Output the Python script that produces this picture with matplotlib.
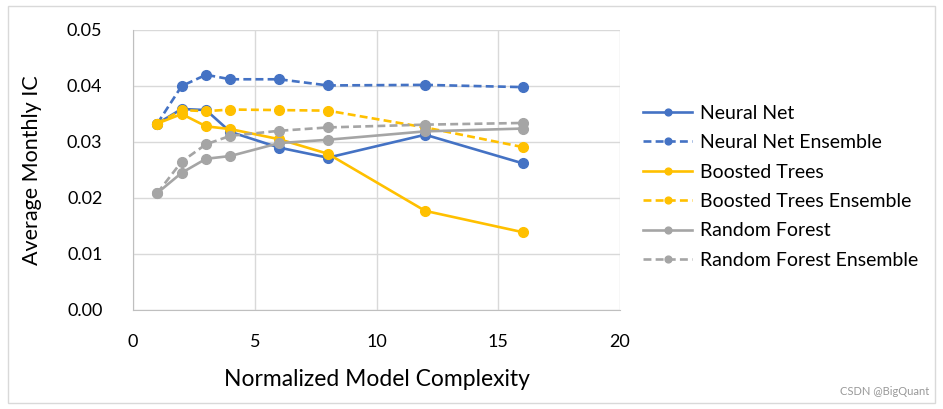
import matplotlib
matplotlib.use("Agg")
import matplotlib.pyplot as plt

plt.rcParams["font.family"] = ["Lato", "DejaVu Sans"]

complexity = [1, 2, 3, 4, 6, 8, 12, 16]
neural_net = [0.0333, 0.0359, 0.0357, 0.0318, 0.0290, 0.0272, 0.0313, 0.0262]
neural_net_ens = [0.0333, 0.0400, 0.0420, 0.0412, 0.0412, 0.0401, 0.0402, 0.0398]
boosted = [0.0333, 0.0350, 0.0328, 0.0323, 0.0305, 0.0279, 0.0177, 0.0139]
boosted_ens = [0.0333, 0.0357, 0.0355, 0.0358, 0.0357, 0.0356, 0.0326, 0.0291]
forest = [0.0209, 0.0245, 0.0270, 0.0275, 0.0298, 0.0304, 0.0319, 0.0324]
forest_ens = [0.0209, 0.0265, 0.0296, 0.0311, 0.0320, 0.0326, 0.0331, 0.0334]

BLUE = "#4472C4"
GOLD = "#FFC000"
GRAY = "#A5A5A5"

fig = plt.figure(figsize=(9.43, 4.09), dpi=100)
ax = fig.add_axes([133 / 943, 1 - 310 / 409, (620 - 133) / 943, (310 - 30) / 409])

series = [
    ("Neural Net", neural_net, BLUE, "-"),
    ("Neural Net Ensemble", neural_net_ens, BLUE, "--"),
    ("Boosted Trees", boosted, GOLD, "-"),
    ("Boosted Trees Ensemble", boosted_ens, GOLD, "--"),
    ("Random Forest", forest, GRAY, "-"),
    ("Random Forest Ensemble", forest_ens, GRAY, "--"),
]
for label, vals, color, ls in series:
    ax.plot(complexity, vals, color=color, linestyle=ls, linewidth=1.9,
            marker="o", markersize=7, label=label, dashes=(3, 1.6) if ls == "--" else (None, None))

ax.set_xlim(0, 20)
ax.set_ylim(0, 0.05)
ax.set_xticks([0, 5, 10, 15, 20])
ax.set_yticks([0.00, 0.01, 0.02, 0.03, 0.04, 0.05])
ax.set_yticklabels([f"{v:.2f}" for v in ax.get_yticks()])
ax.tick_params(length=0, labelsize=13)
ax.tick_params(axis="x", pad=17)
ax.tick_params(axis="y", pad=22)
ax.grid(True, color="#D9D9D9", linewidth=1)
ax.set_axisbelow(True)
for side in ["top", "right"]:
    ax.spines[side].set_visible(False)
for side in ["left", "bottom"]:
    ax.spines[side].set_color("#BFBFBF")

ax.set_xlabel("Normalized Model Complexity", fontsize=16.5, labelpad=14)
ax.set_ylabel("Average Monthly IC", fontsize=15.5, labelpad=18)

ax.legend(loc="center left", bbox_to_anchor=(1.012, 0.44), frameon=False, fontsize=14,
          handlelength=2.5, labelspacing=0.64, handletextpad=0.4, markerscale=0.7)

fig.add_artist(plt.Rectangle((0.008, 0.015), 0.984, 0.97, transform=fig.transFigure,
                             fill=False, edgecolor="#D9D9D9", linewidth=1))
fig.text(0.985, 0.03, "CSDN @BigQuant", ha="right", va="bottom", fontsize=8, color="#999999")

fig.savefig("out.png", dpi=100, facecolor="white")
